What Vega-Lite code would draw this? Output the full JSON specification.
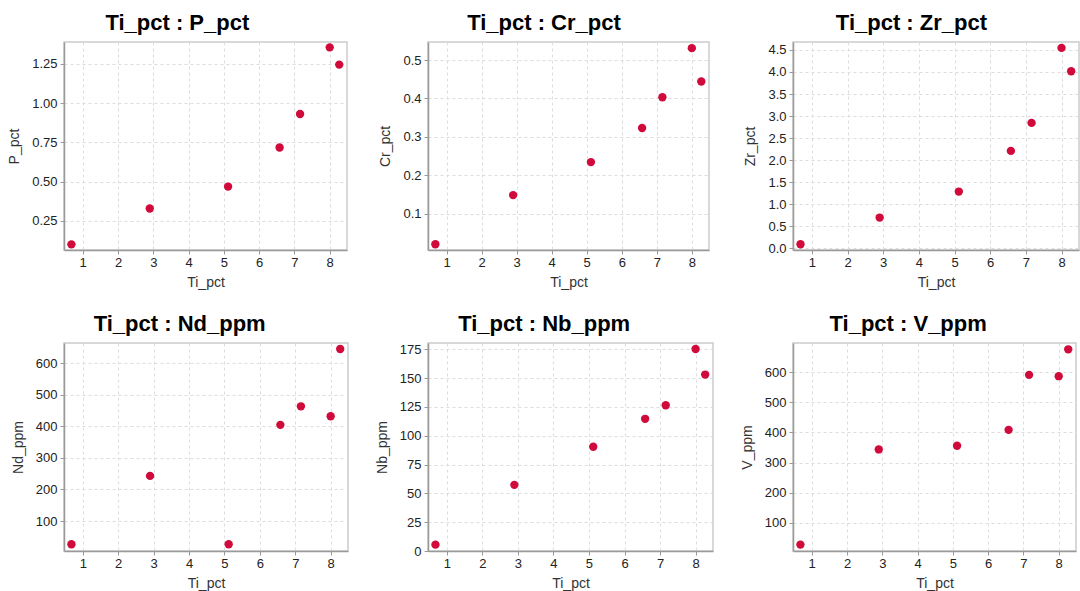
{
  "$schema": "https://vega.github.io/schema/vega-lite/v6.json",
  "background": "white",
  "padding": {"left": 6, "top": 11, "right": 0, "bottom": 0},
  "data": {"values": [
    {"Ti": 0.68, "P": 0.101, "Cr": 0.020, "Zr": 0.09, "Nd": 26.5, "Nb": 5.5, "V": 27.3},
    {"Ti": 2.90, "P": 0.329, "Cr": 0.148, "Zr": 0.696, "Nd": 243, "Nb": 57.4, "V": 343.4},
    {"Ti": 5.12, "P": 0.469, "Cr": 0.234, "Zr": 1.286, "Nd": 26.5, "Nb": 90.5, "V": 355.5},
    {"Ti": 6.58, "P": 0.718, "Cr": 0.323, "Zr": 2.209, "Nd": 404.6, "Nb": 114.7, "V": 408.4},
    {"Ti": 7.16, "P": 0.931, "Cr": 0.403, "Zr": 2.844, "Nd": 463.4, "Nb": 126.5, "V": 591.2},
    {"Ti": 8.00, "P": 1.356, "Cr": 0.531, "Zr": 4.546, "Nd": 432, "Nb": 175.3, "V": 586.8},
    {"Ti": 8.27, "P": 1.246, "Cr": 0.444, "Zr": 4.017, "Nd": 645, "Nb": 153.1, "V": 676}
  ]},
  "columns": 3,
  "bounds": "flush",
  "spacing": {"row": 93, "column": 80},
  "concat": [
    {
      "title": "Ti_pct : P_pct",
      "width": 283, "height": 208,
      "mark": {"type": "circle", "size": 70, "opacity": 1, "color": "#d10a3c"},
      "encoding": {
        "x": {"field": "Ti", "type": "quantitative", "title": "Ti_pct", "scale": {"domain": [0.47, 8.49], "nice": false, "zero": false}, "axis": {"values": [1,2,3,4,5,6,7,8], "labelPadding": 2, "titlePadding": 6}},
        "y": {"field": "P", "type": "quantitative", "title": "P_pct", "scale": {"domain": [0.065, 1.39], "nice": false, "zero": false}, "axis": {"values": [0.25,0.5,0.75,1,1.25], "format": ".2f"}}
      }
    },
    {
      "title": "Ti_pct : Cr_pct",
      "width": 281, "height": 208,
      "mark": {"type": "circle", "size": 70, "opacity": 1, "color": "#d10a3c"},
      "encoding": {
        "x": {"field": "Ti", "type": "quantitative", "title": "Ti_pct", "scale": {"domain": [0.47, 8.49], "nice": false, "zero": false}, "axis": {"values": [1,2,3,4,5,6,7,8], "labelPadding": 2, "titlePadding": 6}},
        "y": {"field": "Cr", "type": "quantitative", "title": "Cr_pct", "scale": {"domain": [0.005, 0.547], "nice": false, "zero": false}, "axis": {"values": [0.1,0.2,0.3,0.4,0.5], "format": ".1f"}}
      }
    },
    {
      "title": "Ti_pct : Zr_pct",
      "width": 286, "height": 208,
      "mark": {"type": "circle", "size": 70, "opacity": 1, "color": "#d10a3c"},
      "encoding": {
        "x": {"field": "Ti", "type": "quantitative", "title": "Ti_pct", "scale": {"domain": [0.47, 8.49], "nice": false, "zero": false}, "axis": {"values": [1,2,3,4,5,6,7,8], "labelPadding": 2, "titlePadding": 6}},
        "y": {"field": "Zr", "type": "quantitative", "title": "Zr_pct", "scale": {"domain": [-0.04, 4.68], "nice": false, "zero": false}, "axis": {"values": [0,0.5,1,1.5,2,2.5,3,3.5,4,4.5], "format": ".1f"}}
      }
    },
    {
      "title": "Ti_pct : Nd_ppm",
      "width": 284, "height": 208,
      "mark": {"type": "circle", "size": 70, "opacity": 1, "color": "#d10a3c"},
      "encoding": {
        "x": {"field": "Ti", "type": "quantitative", "title": "Ti_pct", "scale": {"domain": [0.47, 8.49], "nice": false, "zero": false}, "axis": {"values": [1,2,3,4,5,6,7,8], "labelPadding": 2, "titlePadding": 6}},
        "y": {"field": "Nd", "type": "quantitative", "title": "Nd_ppm", "scale": {"domain": [5, 664], "nice": false, "zero": false}, "axis": {"values": [100,200,300,400,500,600], "format": "d"}}
      }
    },
    {
      "title": "Ti_pct : Nb_ppm",
      "width": 285, "height": 208,
      "mark": {"type": "circle", "size": 70, "opacity": 1, "color": "#d10a3c"},
      "encoding": {
        "x": {"field": "Ti", "type": "quantitative", "title": "Ti_pct", "scale": {"domain": [0.47, 8.49], "nice": false, "zero": false}, "axis": {"values": [1,2,3,4,5,6,7,8], "labelPadding": 2, "titlePadding": 6}},
        "y": {"field": "Nb", "type": "quantitative", "title": "Nb_ppm", "scale": {"domain": [0, 180.5], "nice": false, "zero": false}, "axis": {"values": [0,25,50,75,100,125,150,175], "format": "d"}}
      }
    },
    {
      "title": "Ti_pct : V_ppm",
      "width": 283, "height": 208,
      "mark": {"type": "circle", "size": 70, "opacity": 1, "color": "#d10a3c"},
      "encoding": {
        "x": {"field": "Ti", "type": "quantitative", "title": "Ti_pct", "scale": {"domain": [0.47, 8.49], "nice": false, "zero": false}, "axis": {"values": [1,2,3,4,5,6,7,8], "labelPadding": 2, "titlePadding": 6}},
        "y": {"field": "V", "type": "quantitative", "title": "V_ppm", "scale": {"domain": [6, 697], "nice": false, "zero": false}, "axis": {"values": [100,200,300,400,500,600], "format": "d"}}
      }
    }
  ],
  "config": {
    "view": {"stroke": "#cccccc", "strokeWidth": 1.5},
    "axis": {
      "domainColor": "#999999", "domainWidth": 1.5,
      "tickColor": "#999999", "tickSize": 4,
      "labelFont": "Liberation Sans", "labelFontSize": 13, "labelColor": "#222222", "labelPadding": 3,
      "titleFont": "Liberation Sans", "titleFontSize": 14, "titleFontWeight": "normal", "titleColor": "#333333", "titlePadding": 10,
      "grid": true, "gridColor": "#dddddd", "gridDash": [3, 3], "gridWidth": 1
    },
    "title": {"font": "Liberation Sans", "fontSize": 22, "fontWeight": "bold", "color": "#000000", "anchor": "middle", "frame": "bounds", "offset": 7, "baseline": "alphabetic"}
  }
}
